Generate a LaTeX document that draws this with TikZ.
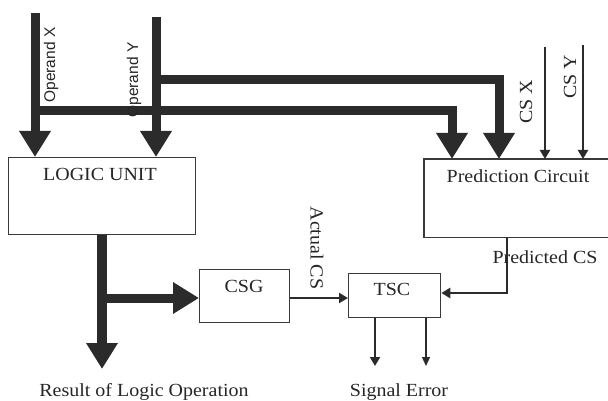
\documentclass[tikz,border=0pt]{standalone}
\usepackage{fontspec}
\setmainfont[FakeStretch=1.08]{Liberation Serif}
\newfontfamily\labsans{Liberation Sans}
\usetikzlibrary{arrows.meta}
\definecolor{ink}{HTML}{2B2B2B}
\definecolor{edge}{HTML}{3A3A3A}
\tikzset{
  box/.style={draw=edge, line width=1.3pt, inner sep=0pt, anchor=north west},
  fat/.style={draw=ink, line width=9pt},
  fatarrow/.style={fat, -{Triangle[length=26pt,width=30pt]}},
  thinarrow/.style={draw=ink, line width=2.4pt, -{Triangle[length=9pt,width=10pt]}},
  hairarrow/.style={draw=ink, line width=1.3pt, -{Triangle[length=9pt,width=8pt]}},
  txt/.style={font=\fontsize{18.5}{22}\selectfont, inner sep=0pt, text=black!85},
  stxt/.style={font=\labsans\fontsize{15.5}{18}\selectfont, inner sep=0pt, text=black!85},
}
\begin{document}
\begin{tikzpicture}[x=1pt,y=-1pt]
\useasboundingbox (0,0) rectangle (608,401);
\fill[white] (0,0) rectangle (608,401);

% boxes
\node[box, minimum width=187pt, minimum height=77pt] (LU) at (8,157) {};
\node[draw=none, inner sep=0pt, anchor=north west, minimum width=184pt, minimum height=78pt] (PC) at (424,159) {};
\draw[edge, line width=1.3pt] (PC.north east) -- (PC.north west) -- (PC.south west) -- (PC.south east);
\node[box, minimum width=90pt, minimum height=53pt] (CSG) at (199,269) {};
\node[box, minimum width=92pt, minimum height=44pt] (TSC) at (348,273) {};

% box texts
\node[txt] at (100,174) {LOGIC UNIT};
\node[txt] at (518,176) {Prediction Circuit};
\node[txt] at (244,286) {CSG};
\node[txt] at (392,289) {TSC};

% coordinates
\coordinate (ox) at (35,13);
\coordinate (oy) at (156,17);
\coordinate (bx) at (35,111);
\coordinate (by) at (156,80);
\coordinate (px) at (452,0);
\coordinate (py) at (499,0);
\coordinate (csx) at (545,47);
\coordinate (csy) at (583,45);
\coordinate (res) at (102,369);
\coordinate (bb) at (102,298);
\coordinate (ac) at (300,298);
\coordinate (pcs) at (507,293);
\coordinate (se1) at (375,366);
\coordinate (se2) at (426,366);

% operand inputs
\draw[fatarrow] (ox) -- (ox |- LU.north);
\draw[fatarrow] (oy) -- (oy |- LU.north);
\draw[fatarrow] (by) -- (by -| py) -- (py |- PC.north);
\draw[fatarrow] (bx) -- (bx -| px) -- (px |- PC.north);

% CS inputs
\draw[thinarrow] (csx) -- (csx |- PC.north);
\draw[thinarrow] (csy) -- (csy |- PC.north);

% logic result
\draw[fatarrow, line width=10pt] (res |- LU.south) -- (res);
\draw[fatarrow] (bb) -- (bb -| CSG.west);

% CSG -> TSC
\draw[thinarrow] (ac -| CSG.east) -- (ac -| TSC.west);

% predicted CS
\draw[thinarrow] (pcs |- PC.south) -- (pcs) -- (pcs -| TSC.east);

% TSC outputs
\draw[thinarrow, line width=2pt] (se1 |- TSC.south) -- (se1);
\draw[hairarrow] (se2 |- TSC.south) -- (se2);

% labels
\node[stxt, rotate=90] at (51,65) {Operand X};
\node[stxt, rotate=90] at (134,80) {Operand Y};
\node[txt, rotate=90] at (526,102) {CS X};
\node[txt, rotate=90] at (570,77) {CS Y};
\node[txt, rotate=-90] at (317,248) {Actual CS};
\node[txt] at (545,257) {Predicted CS};
\node[txt] at (144,392) {Result of Logic Operation};
\node[txt] at (399,392) {Signal Error};
\end{tikzpicture}
\end{document}
